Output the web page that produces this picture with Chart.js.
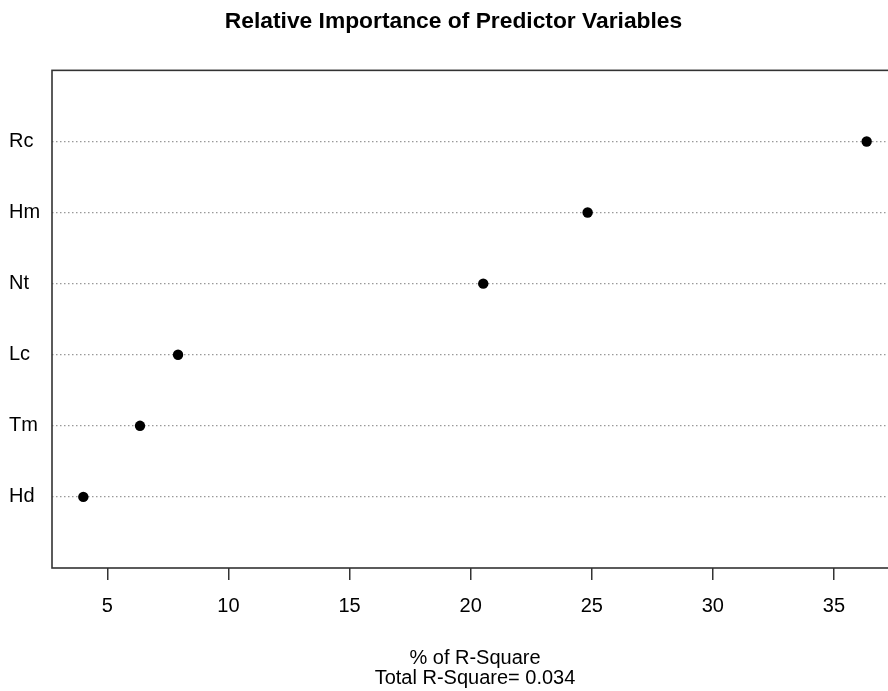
<!DOCTYPE html>
<html>
<head>
<meta charset="utf-8">
<script src="https://cdn.jsdelivr.net/npm/chart.js@4.4.0/dist/chart.umd.min.js"></script>
<style>
  html, body { margin: 0; padding: 0; background: #fff; overflow: hidden; }
  #wrap { width: 910px; height: 691px; }
</style>
</head>
<body>
<div id="wrap"><canvas id="myChart" width="910" height="691"></canvas></div>
<script>
// predictors, bottom to top like the dotchart
const variables = ['Hd', 'Tm', 'Lc', 'Nt', 'Hm', 'Rc'];
const pctR2 = [4.01, 6.35, 7.92, 20.52, 24.83, 36.35];
const xTicks = [5, 10, 15, 20, 25, 30, 35];
const totalR2 = 0.034;

const ctx = document.getElementById('myChart');
const fontFam = '"Liberation Sans", Arial, sans-serif';

// plot frame like R's box()
const boxPlugin = {
  id: 'box',
  afterDraw(chart) {
    const a = chart.chartArea;
    const c = chart.ctx;
    c.save();
    c.strokeStyle = '#333';
    c.lineWidth = 1.6;
    c.strokeRect(a.left, a.top, a.right - a.left, a.bottom - a.top);
    c.restore();
  }
};

const lo = Math.min(...pctR2), hi = Math.max(...pctR2);
const pad = (hi - lo) * 0.04;

const myChart = new Chart(ctx, {
  type: 'scatter',
  data: {
    datasets: [{
      data: pctR2.map((v, i) => ({ x: v, y: i + 1 })),
      backgroundColor: '#000',
      borderWidth: 0,
      pointRadius: 5.2,
      pointHoverRadius: 5.2
    }]
  },
  options: {
    responsive: false,
    animation: false,
    events: [],
    layout: { padding: { left: 9, right: 12, top: 0, bottom: 0 } },
    plugins: {
      legend: { display: false },
      tooltip: { enabled: false },
      title: {
        display: true,
        text: 'Relative Importance of Predictor Variables',
        color: '#000',
        font: { family: fontFam, size: 22.8, weight: 'bold', lineHeight: 1.2 },
        padding: { top: 8, bottom: 35 }
      }
    },
    scales: {
      x: {
        type: 'linear',
        min: lo - pad,
        max: hi + pad,
        afterBuildTicks: (s) => { s.ticks = xTicks.map(v => ({ value: v })); },
        afterFit: (s) => { s.height = 123; },
        grid: { drawOnChartArea: false, drawTicks: true, tickLength: 12, color: '#333', lineWidth: 1.5 },
        border: { display: false },
        ticks: { color: '#000', padding: 14, font: { family: fontFam, size: 20 } },
        title: {
          display: true,
          text: ['% of R-Square', 'Total R-Square= ' + totalR2],
          color: '#000',
          font: { family: fontFam, size: 20, lineHeight: 1.0 },
          padding: { top: 0, bottom: 3 }
        }
      },
      y: {
        type: 'linear',
        min: 0,
        max: variables.length + 1,
        afterBuildTicks: (s) => { s.ticks = variables.map((v, i) => ({ value: i + 1 })); },
        afterFit: (s) => { s.width = 43; },
        grid: { color: '#999', lineWidth: 1.3, drawTicks: false },
        border: { display: false, dash: [1.5, 2.5] },
        ticks: {
          color: '#000',
          crossAlign: 'far',
          padding: 0,
          font: { family: fontFam, size: 20 },
          callback: (v) => variables[v - 1]
        }
      }
    }
  },
  plugins: [boxPlugin]
});
</script>
</body>
</html>
